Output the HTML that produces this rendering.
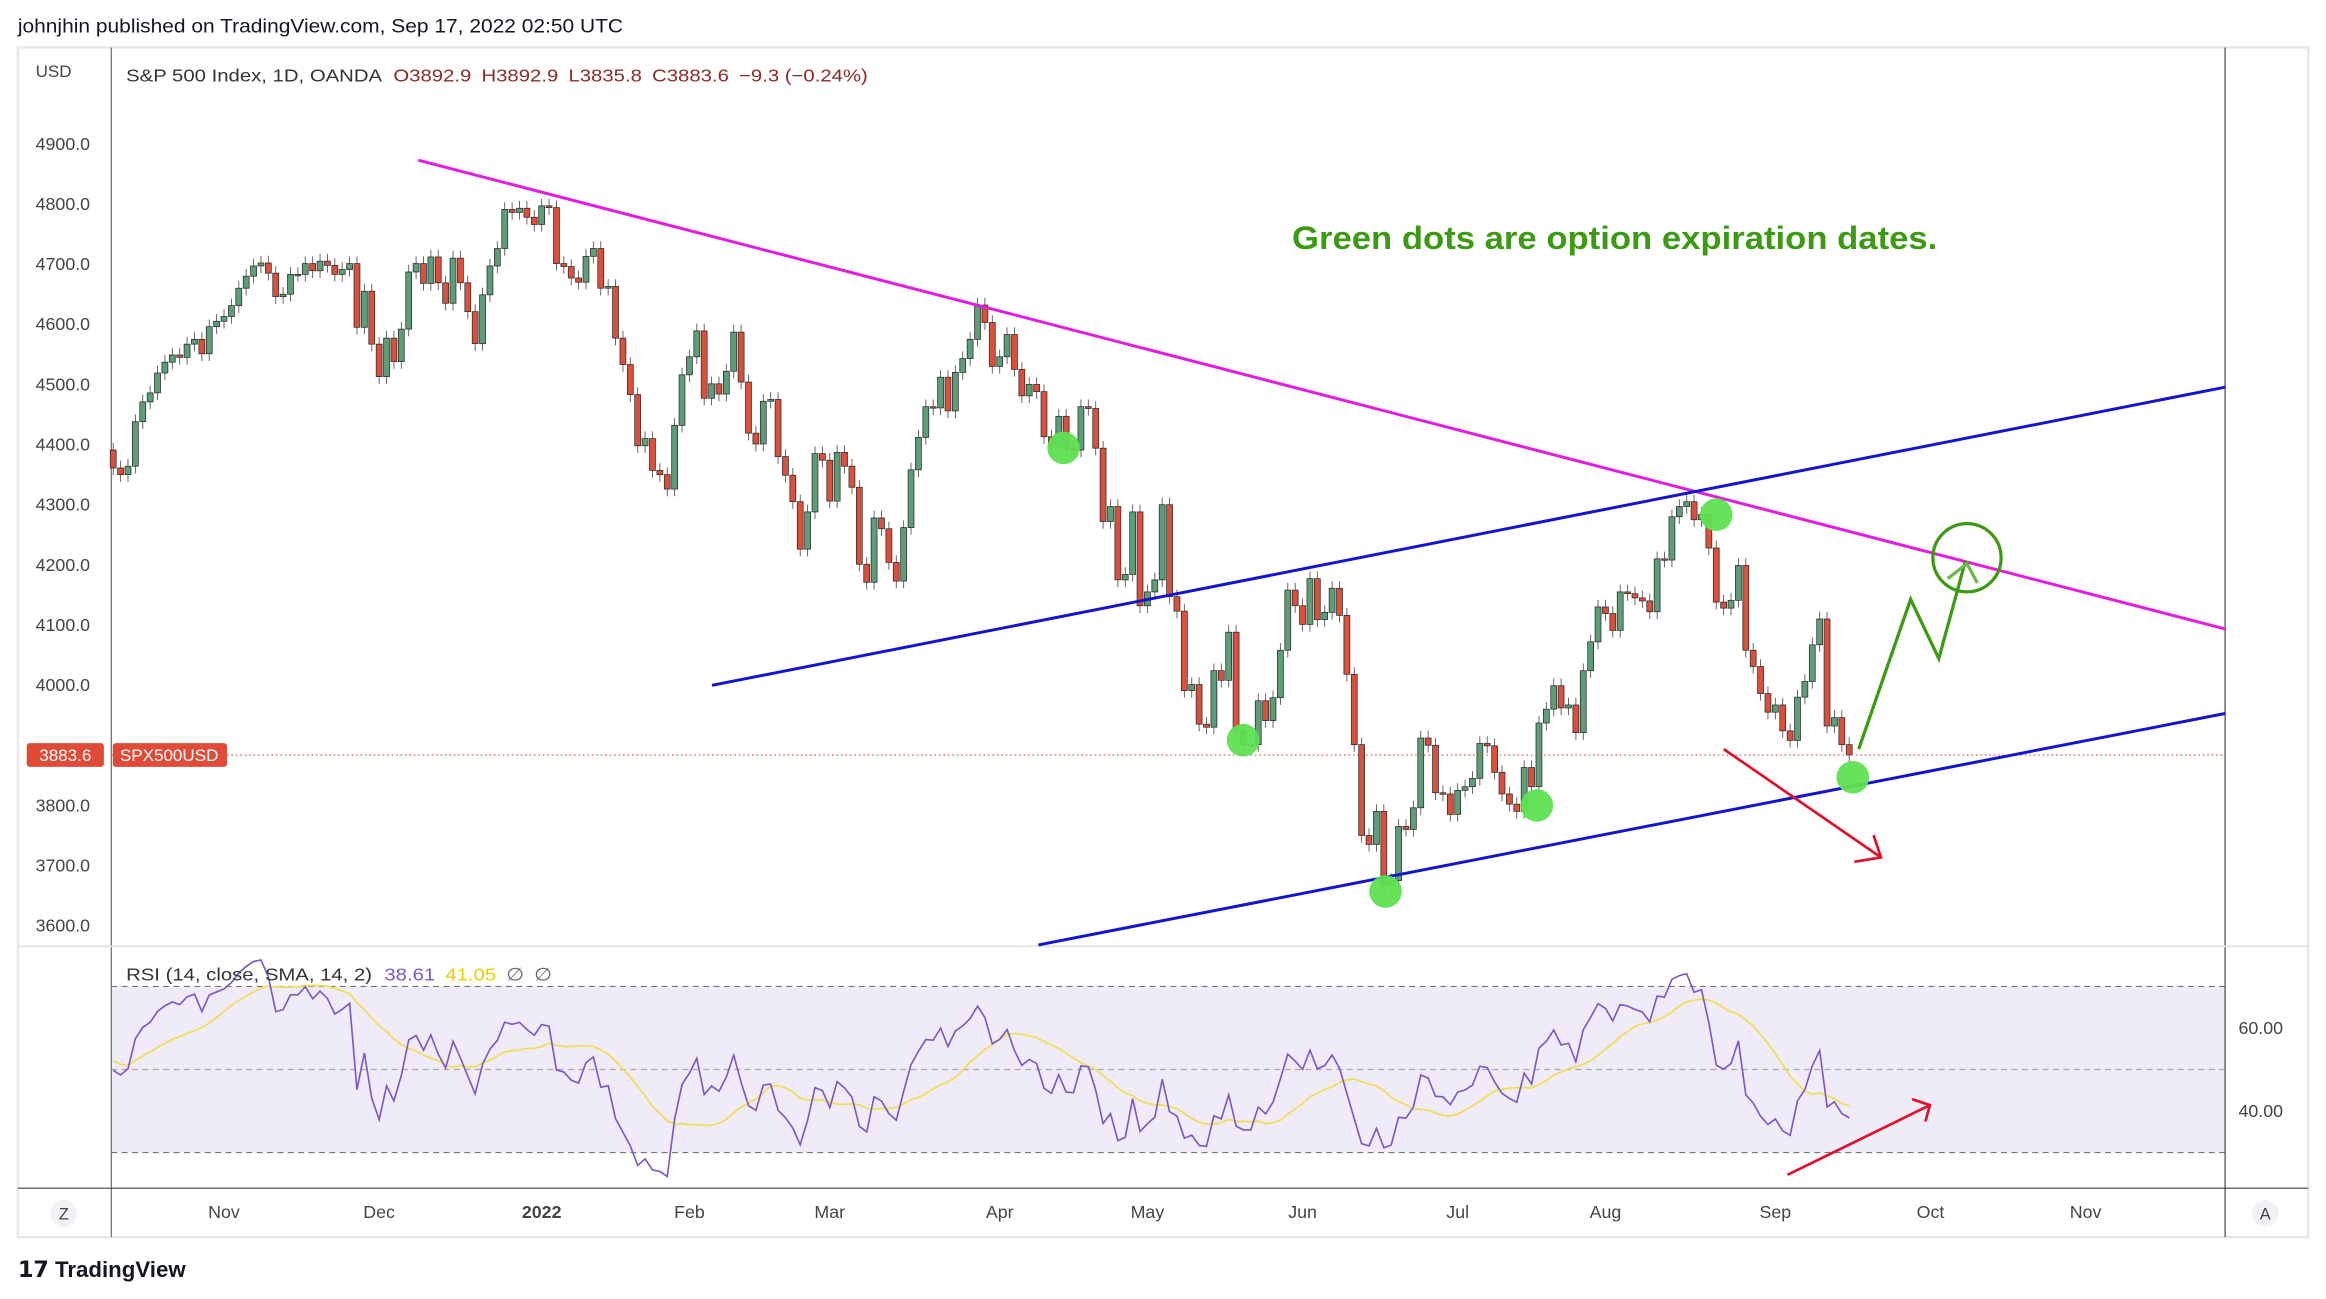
<!DOCTYPE html>
<html><head><meta charset="utf-8">
<style>
html,body{margin:0;padding:0;background:#fff;}
svg{display:block;}
text{font-family:"Liberation Sans",sans-serif;}
</style></head>
<body>
<svg id="chart" width="2326" height="1299" viewBox="0 0 1568 875.7" xmlns="http://www.w3.org/2000/svg">
  <rect x="0" y="0" width="1568" height="876" fill="#fff"/>
  <text x="12" y="22" font-size="13" fill="#131722" textLength="408" lengthAdjust="spacingAndGlyphs">johnjhin published on TradingView.com, Sep 17, 2022 02:50 UTC</text>
  <rect x="12" y="32" width="1544" height="802" fill="none" stroke="#e6e6e6" stroke-width="1.5"/>
  <rect x="75" y="665" width="1425" height="112" fill="#efebf8"/>
  <g id="grid"></g>
  <line x1="75" y1="32" x2="75" y2="834" stroke="#666" stroke-width="0.8"/>
  <line x1="1500" y1="32" x2="1500" y2="834" stroke="#444" stroke-width="0.8"/>
  <line x1="12" y1="638" x2="1556" y2="638" stroke="#e0e0e0" stroke-width="1.2"/>
  <line x1="12" y1="801" x2="1556" y2="801" stroke="#444" stroke-width="0.8"/>
  <text x="24" y="52" font-size="11.5" fill="#444">USD</text>
  <g id="yticks"></g>
  <g id="xticks"></g>
  <g id="candles"></g>
  <line x1="75" y1="509" x2="1500" y2="509" stroke="#d04a3a" stroke-width="0.8" stroke-dasharray="1,2"/>
  <g id="rsi"></g>
  <line x1="282" y1="108" x2="1500" y2="424" stroke="#e11de0" stroke-width="2"/>
  <line x1="480" y1="462" x2="1500" y2="261" stroke="#1414cc" stroke-width="2"/>
  <line x1="700" y1="637" x2="1500" y2="481" stroke="#1414cc" stroke-width="2"/>
  <g fill="#5fe052" opacity="0.95">
    <circle cx="717" cy="302" r="11"/>
    <circle cx="838" cy="499" r="11"/>
    <circle cx="934" cy="601" r="11"/>
    <circle cx="1036" cy="543" r="11"/>
    <circle cx="1157" cy="347" r="11"/>
    <circle cx="1249" cy="524" r="11"/>
  </g>
  <g stroke="#3c9a14" stroke-width="2.2" fill="none">
    <polyline points="1253,505 1288,404 1307,444 1325,378"/>
    <polyline points="1313,390 1326,380 1333,393" stroke="#6cb848"/>
    <circle cx="1326" cy="376" r="23"/>
  </g>
  <g stroke="#e0102a" stroke-width="1.8" fill="none">
    <line x1="1162" y1="505" x2="1268" y2="578"/>
    <polyline points="1263,563 1268,578 1250,581"/>
  </g>
  <g stroke="#e0102a" stroke-width="1.8" fill="none">
    <line x1="1205" y1="792" x2="1301" y2="745"/>
    <polyline points="1289,741 1301,745 1298,756"/>
  </g>
  <text x="871" y="168" font-size="22" font-weight="bold" fill="#3c9a14" textLength="435" lengthAdjust="spacingAndGlyphs">Green dots are option expiration dates.</text>
  <text x="85" y="55" font-size="12" fill="#333" textLength="500" lengthAdjust="spacingAndGlyphs">S&amp;P 500 Index, 1D, OANDA <tspan fill="#8b2a2a" dx="4">O3892.9</tspan><tspan fill="#8b2a2a" dx="6">H3892.9</tspan><tspan fill="#8b2a2a" dx="6">L3835.8</tspan><tspan fill="#8b2a2a" dx="6">C3883.6</tspan><tspan fill="#8b2a2a" dx="6">−9.3 (−0.24%)</tspan></text>
  <text x="85" y="661" font-size="12" fill="#333" textLength="287" lengthAdjust="spacingAndGlyphs">RSI (14, close, SMA, 14, 2) <tspan fill="#7e57c2" dx="4">38.61</tspan><tspan fill="#e8d000" dx="6">41.05</tspan><tspan fill="#666" dx="6">∅</tspan><tspan fill="#666" dx="6">∅</tspan></text>
  <rect x="18" y="501" width="52" height="16" rx="2" fill="#e04b37"/>
  <text x="44" y="513" font-size="11.5" fill="#fff" text-anchor="middle">3883.6</text>
  <rect x="76" y="501" width="77" height="16" rx="2" fill="#e04b37"/>
  <text x="114" y="513" font-size="11.5" fill="#fff" text-anchor="middle">SPX500USD</text>
  <text x="1509" y="697" font-size="12" fill="#444">60.00</text>
  <text x="1509" y="753" font-size="12" fill="#444">40.00</text>
  <circle cx="43" cy="818" r="9" fill="#f0f2f5"/>
  <text x="43" y="822" font-size="11" fill="#444" text-anchor="middle">Z</text>
  <circle cx="1527" cy="818" r="9" fill="#f0f2f5"/>
  <text x="1527" y="822" font-size="11" fill="#444" text-anchor="middle">A</text>
  <text x="12" y="861" font-size="15" font-weight="bold" fill="#131722">𝟭𝟳 TradingView</text>
</svg>
<script>
const NS="http://www.w3.org/2000/svg";
const warmup=[4358,4354,4395,4448,4455,4443,4353,4359,4307,4357,4300,4345,4300,4363,4399,4391];
const closes=[4361,4350,4364,4438,4471,4486,4519,4537,4549,4545,4567,4575,4551,4596,4605,
4613,4631,4660,4680,4697,4702,4685,4646,4650,4683,4683,4701,4689,4705,4698,4683,4691,4701,4595,4655,4567,
4513,4577,4538,4592,4687,4701,4668,4712,4669,4635,4710,4669,4621,4568,4649,4697,4726,4791,4786,4793,4778,4766,
4797,4794,4701,4696,4677,4670,4713,4726,4660,4663,4577,4533,4483,4398,4410,4357,4350,4326,4432,4516,
4546,4589,4477,4501,4484,4522,4587,4504,4419,4401,4472,4475,4380,4349,4305,4226,4288,4385,4374,
4306,4387,4364,4329,4201,4171,4278,4260,4204,4173,4262,4358,4412,4463,4461,4512,4456,4520,4543,4575,4632,4603,4530,
4546,4583,4525,4481,4500,4488,4413,4397,4447,4393,4391,4463,4460,4394,4272,4297,4175,4184,4288,4132,
4155,4175,4300,4147,4123,3991,4001,3935,3930,4024,4008,4088,3924,3901,3901,3974,3941,3979,4058,4158,4132,
4101,4177,4109,4121,4161,4116,4018,3901,3750,3735,3790,3667,3675,3765,3760,3796,3912,3900,3821,3819,3785,
3825,3831,3845,3903,3899,3855,3819,3802,3790,3863,3831,3937,3960,3999,3962,3967,3921,4024,4072,4130,
4119,4091,4155,4152,4145,4140,4122,4210,4208,4280,4297,4305,4275,4284,4228,4138,4128,4141,4199,4058,4031,3986,3955,
3967,3924,3908,3980,4006,4067,4110,3932,3946,3901,3884];
const priceTicks=[3600,3700,3800,3900,4000,4100,4200,4300,4400,4500,4600,4700,4800,4900];
const monthLabels=["Nov","Dec","2022","Feb","Mar","Apr","May","Jun","Jul","Aug","Sep","Oct","Nov"];
const monthIdx=[15,36,58,78,97,120,140,161,182,202,225,246,267];
const rsiLevels=[70,50,30];

const x=i=>76.3+i*4.98;
const y=p=>97+(4900-p)*0.4054;
const yr=v=>721-(v-50)*2.8;
function mk(tag,attrs,parent){const e=document.createElementNS(NS,tag);for(const k in attrs)e.setAttribute(k,attrs[k]);parent.appendChild(e);return e;}

const yt=document.getElementById('yticks');
priceTicks.forEach(p=>{
  if(p===3900) return;
  const t=mk('text',{x:24,y:y(p)+4,'font-size':12,fill:'#444'},yt);
  
  
  t.textContent=p.toFixed(1);
});
const xt=document.getElementById('xticks');
monthLabels.forEach((m,k)=>{
  const t=mk('text',{x:x(monthIdx[k]),y:821,'font-size':12,fill:'#444','text-anchor':'middle','font-weight':m==="2022"?'bold':'normal'},xt);
  
  
  t.textContent=m;
});
const gr=document.getElementById('grid');
rsiLevels.forEach(v=>{
  const l=mk('line',{x1:75,x2:1500,y1:yr(v),y2:yr(v),stroke:v===50?'#aaa':'#777','stroke-width':0.8,'stroke-dasharray':'4,3'},gr);
  
  
});

const cg=document.getElementById('candles');
let prev=warmup[warmup.length-1];
closes.forEach((c,i)=>{
  const o=prev; prev=c;
  const up=c>=o;
  const hi=Math.max(o,c)+12, lo=Math.min(o,c)-12;
  const g=mk('g',{},cg);
  
  
  mk('line',{x1:x(i),x2:x(i),y1:y(hi),y2:y(lo),stroke:'#555','stroke-width':0.6},g);
  const top=y(Math.max(o,c)), h=Math.max(1,Math.abs(y(o)-y(c)));
  mk('rect',{x:x(i)-2,y:top,width:4,height:h,fill:up?'#5d9e78':'#d9503d',stroke:'#2a2a2a','stroke-width':0.5},g);
});

const all=warmup.concat(closes);
let ag=0,al=0;const rsi=[];
for(let i=1;i<all.length;i++){
  const d=all[i]-all[i-1],gn=Math.max(d,0),ls=Math.max(-d,0);
  if(i<=14){ag+=gn/14;al+=ls/14;}else{ag=(ag*13+gn)/14;al=(al*13+ls)/14;}
  rsi[i]=i>=14?100-100/(1+ag/(al||1e-9)):null;
}
const off=warmup.length;
const rg=document.getElementById('rsi');
let pr="",ps="";
for(let i=0;i<closes.length;i++){
  const v=rsi[i+off];
  pr+=(pr?" L":"M")+x(i).toFixed(1)+","+yr(v).toFixed(1);
  let s=0,n=0;for(let k=0;k<14;k++){const w=rsi[i+off-k];if(w!=null){s+=w;n++;}}
  ps+=(ps?" L":"M")+x(i).toFixed(1)+","+yr(s/n).toFixed(1);
}
const sl=mk('path',{d:ps,fill:'none',stroke:'#f0de5a','stroke-width':1.2},rg);


const rl=mk('path',{d:pr,fill:'none',stroke:'#7e57c2','stroke-width':1.1},rg);


</script>
</body></html>
